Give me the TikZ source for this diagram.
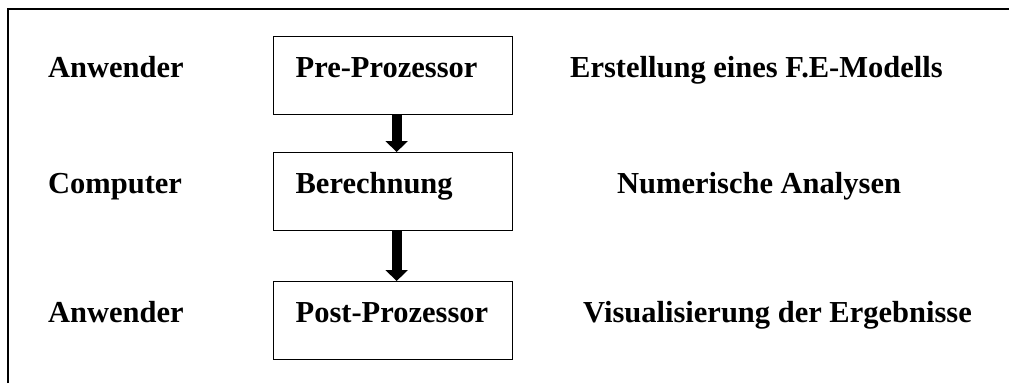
\documentclass[tikz,border=0pt]{standalone}
\usepackage{fontspec}
\setmainfont{Liberation Serif}
\usetikzlibrary{arrows.meta}
\begin{document}
\begin{tikzpicture}[x=1pt,y=-1pt,
  txt/.style={anchor=base west, inner sep=0pt, font=\fontsize{30.5}{35}\selectfont\bfseries},
  stepbox/.style={draw, line width=1.3pt, anchor=north west, inner xsep=22pt, inner ysep=0pt,
    text width=195pt, align=left, text height=41pt, text depth=37pt,
    font=\fontsize{30.5}{35}\selectfont\bfseries},
  flow/.style={line width=10pt, -{Triangle[width=22pt,length=11pt]}}]
\useasboundingbox (0,0) rectangle (1009,383);
\path[draw,line width=1.3pt] (8,383) -- (8,9) -- (1009,9);
% linke Spalte
\node[txt] (w1) at (48,77) {Anwender};
\node[txt] (w2) at (48,193) {Computer};
\node[txt] (w3) at (48,322) {Anwender};
% Kasten
\node[stepbox] (pre) at (273,36) {Pre-Prozessor};
\node[stepbox] (calc) at (273,152) {Berechnung};
\node[stepbox] (post) at (273,281) {Post-Prozessor};
% rechte Spalte
\node[txt] (r1) at (570,77) {Erstellung eines F.E-Modells};
\node[txt] (r2) at (617,193) {Numerische Analysen};
\node[txt] (r3) at (583,322) {Visualisierung der Ergebnisse};
\path[draw,flow] ([xshift=3.5pt]pre.south) -- ([xshift=3.5pt]calc.north);
\path[draw,flow] ([xshift=3.5pt]calc.south) -- ([xshift=3.5pt]post.north);
\end{tikzpicture}
\end{document}
